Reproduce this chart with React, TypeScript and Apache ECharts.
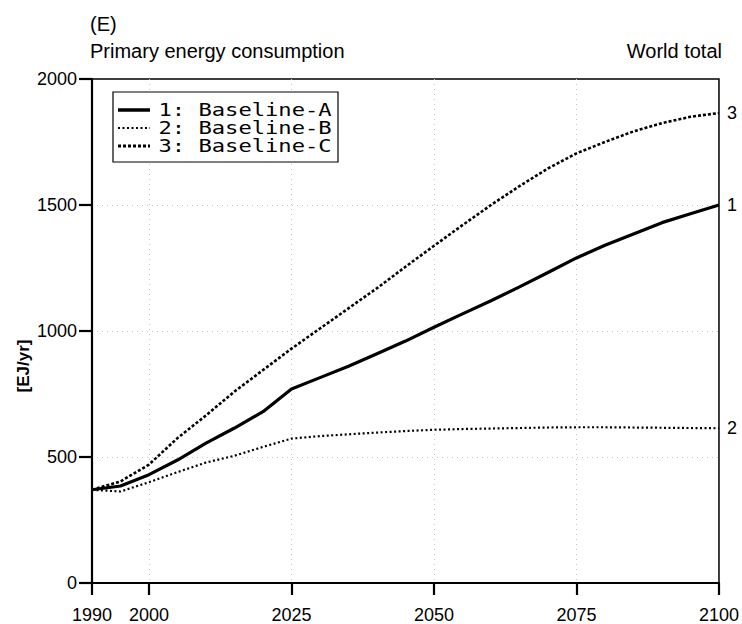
import React, { useEffect, useRef } from "react";
import * as echarts from "echarts";

// Model years (5-year steps) and primary energy consumption, EJ/yr
const years = [
  1990, 1995, 2000, 2005, 2010, 2015, 2020, 2025, 2030, 2035, 2040, 2045,
  2050, 2055, 2060, 2065, 2070, 2075, 2080, 2085, 2090, 2095, 2100,
];
const baselineA = [
  370, 385, 430, 488, 555, 615, 680, 770, 815, 860, 910, 960,
  1015, 1068, 1120, 1175, 1232, 1290, 1340, 1385, 1430, 1465, 1500,
];
const baselineB = [
  370, 363, 400, 440, 478, 505, 540, 573, 583, 590, 597, 603,
  608, 611, 613, 615, 617, 618, 618, 617, 616, 615, 614,
];
const baselineC = [
  370, 403, 470, 575, 665, 760, 845, 930, 1010, 1090, 1170, 1255,
  1338, 1420, 1500, 1575, 1645, 1705, 1750, 1792, 1825, 1850, 1865,
];

const xTicks = [1990, 2000, 2025, 2050, 2075, 2100];
const seriesNames = ["1: Baseline-A", "2: Baseline-B", "3: Baseline-C"];
const endTags = ["1", "2", "3"];

const FONT = '"Liberation Sans", Arial, Helvetica, sans-serif';
const MONO = '"DejaVu Sans Mono", monospace';

const lineStyles = [
  { width: 3.2, type: "solid" as any },
  { width: 2.2, type: [2, 2.5] as any },
  { width: 2.6, type: [3, 2] as any },
];

const plain = (v: number) => String(v);

export default function App() {
  const ref = useRef<HTMLDivElement>(null);

  useEffect(() => {
    if (!ref.current) return;
    document.body.style.margin = "0";
    document.body.style.overflow = "hidden";
    const chart = echarts.init(ref.current, undefined, { renderer: "svg" });

    const dataSets = [baselineA, baselineB, baselineC];
    const series = dataSets.map((vals, i) => ({
      name: seriesNames[i],
      type: "line",
      data: years.map((y, k) => [y, vals[k]]),
      symbol: "none",
      smooth: false,
      lineStyle: { color: "#000", ...lineStyles[i] },
      endLabel: {
        show: true,
        formatter: endTags[i],
        color: "#000",
        fontFamily: FONT,
        fontSize: 18,
        distance: 8,
      },
      z: 3,
    }));

    // Legend box drawn as graphics: sample strokes + monospaced labels
    const rowY = [110, 128, 146];
    const legendItems: any[] = [
      {
        type: "rect",
        shape: { x: 113, y: 92, width: 225, height: 70 },
        style: { fill: "#fff", stroke: "#000", lineWidth: 1.2 },
        z: 10,
      },
    ];
    rowY.forEach((y, i) => {
      legendItems.push({
        type: "line",
        shape: { x1: 118, y1: y, x2: 150, y2: y },
        style: {
          stroke: "#000",
          lineWidth: i === 0 ? 3.5 : i === 1 ? 2.2 : 3,
          lineDash: i === 0 ? null : i === 1 ? [2, 2.5] : [3, 2],
        },
        z: 11,
      });
      legendItems.push({
        type: "text",
        x: 158.5,
        y: y,
        scaleX: 1.23,
        style: {
          text: seriesNames[i],
          font: `18px ${MONO}`,
          fill: "#000",
          textAlign: "left",
          textVerticalAlign: "middle",
        },
        z: 11,
      });
    });

    const gridLine = {
      show: true,
      showMinLine: false,
      showMaxLine: false,
      lineStyle: { color: "#c4c4c4", type: [1, 4] as any, width: 1 },
    };

    chart.setOption({
      animation: false,
      backgroundColor: "#fff",
      textStyle: { fontFamily: FONT, color: "#000" },
      grid: {
        left: 92,
        right: 23,
        top: 79,
        bottom: 39,
        show: true,
        borderColor: "#000",
        borderWidth: 1.5,
        backgroundColor: "transparent",
      },
      xAxis: {
        type: "value",
        min: 1990,
        max: 2100,
        axisLine: { show: true, lineStyle: { color: "#000", width: 2.2 } },
        axisTick: {
          show: true,
          length: 12,
          lineStyle: { color: "#000", width: 2.2 },
          customValues: xTicks,
        },
        axisLabel: {
          customValues: xTicks,
          formatter: plain,
          color: "#000",
          fontSize: 18,
          fontFamily: FONT,
          margin: 23,
        },
        splitLine: gridLine,
      },
      yAxis: {
        type: "value",
        min: 0,
        max: 2000,
        interval: 500,
        axisLine: { show: true, lineStyle: { color: "#000", width: 2.2 } },
        axisTick: {
          show: true,
          length: 13,
          lineStyle: { color: "#000", width: 2.2 },
        },
        axisLabel: {
          formatter: plain,
          color: "#000",
          fontSize: 18,
          fontFamily: FONT,
          margin: 15,
        },
        splitLine: gridLine,
      },
      graphic: [
        {
          type: "text",
          x: 90,
          y: 24,
          style: {
            text: "(E)",
            font: `20px ${FONT}`,
            fill: "#000",
            textAlign: "left",
            textVerticalAlign: "middle",
          },
        },
        {
          type: "text",
          x: 90,
          y: 51,
          style: {
            text: "Primary energy consumption",
            font: `20px ${FONT}`,
            fill: "#000",
            textAlign: "left",
            textVerticalAlign: "middle",
          },
        },
        {
          type: "text",
          x: 722,
          y: 51,
          style: {
            text: "World total",
            font: `20px ${FONT}`,
            fill: "#000",
            textAlign: "right",
            textVerticalAlign: "middle",
          },
        },
        {
          type: "text",
          x: 23,
          y: 366,
          rotation: Math.PI / 2,
          style: {
            text: "[EJ/yr]",
            font: `bold 17px ${FONT}`,
            fill: "#000",
            textAlign: "center",
            textVerticalAlign: "middle",
          },
        },
        ...legendItems,
      ],
      series,
    });

    return () => chart.dispose();
  }, []);

  return (
    <div
      ref={ref}
      style={{ position: "fixed", left: 0, top: 0, width: 742, height: 624 }}
    />
  );
}
